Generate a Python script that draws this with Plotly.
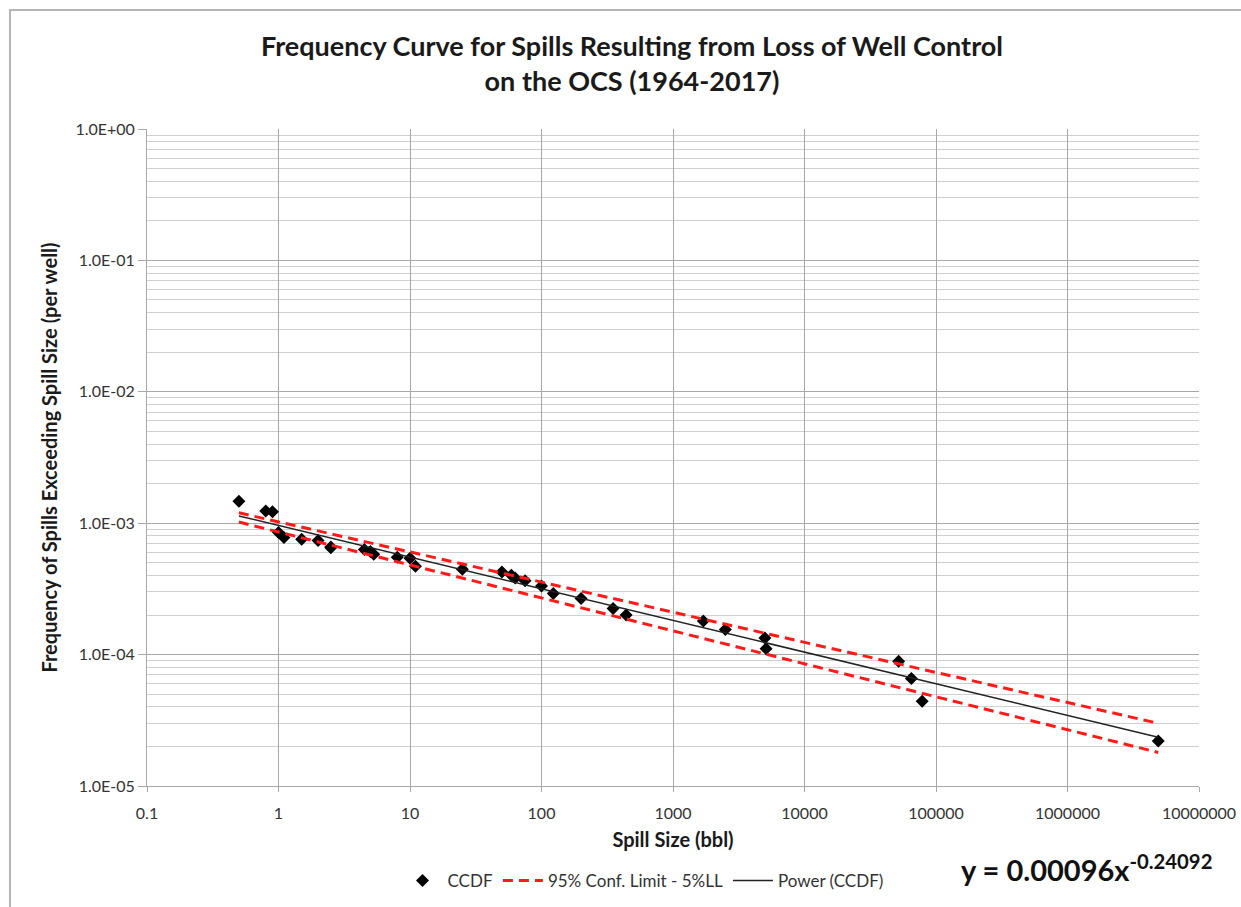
import plotly.graph_objects as go

# ---- data ----
spill_size = [0.5, 0.8, 0.9, 1.0, 1.1, 1.5, 2.0, 2.5, 2.5, 4.5, 5.0, 5.3, 8.0, 10.0,
              11.0, 25.0, 50.0, 59.0, 63.0, 75.0, 100.0, 123.0, 200.0, 350.0, 440.0,
              1700.0, 2500.0, 5000.0, 5100.0, 52000.0, 65000.0, 78500.0, 4900000.0]
ccdf = [1.47e-3, 1.24e-3, 1.22e-3, 8.5e-4, 7.8e-4, 7.55e-4, 7.4e-4, 6.6e-4, 6.5e-4,
        6.3e-4, 6.1e-4, 5.8e-4, 5.5e-4, 5.4e-4, 4.7e-4, 4.47e-4, 4.26e-4, 4.02e-4,
        3.83e-4, 3.64e-4, 3.33e-4, 2.92e-4, 2.67e-4, 2.24e-4, 2.0e-4, 1.80e-4,
        1.55e-4, 1.34e-4, 1.11e-4, 8.9e-5, 6.58e-5, 4.42e-5, 2.2e-5]

line_x = [0.5, 4900000.0]
power_y = [1.135e-3, 2.35e-5]
conf_upper_y = [1.20e-3, 3.0e-5]
conf_lower_y = [1.02e-3, 1.8e-5]

x_tickvals = [0.1, 1, 10, 100, 1000, 10000, 100000, 1000000, 10000000]
x_ticktext = ["0.1", "1", "10", "100", "1000", "10000", "100000", "1000000", "10000000"]
y_tickvals = [1e-5, 1e-4, 1e-3, 1e-2, 1e-1, 1e0]
y_ticktext = ["1.0E-05", "1.0E-04", "1.0E-03", "1.0E-02", "1.0E-01", "1.0E+00"]
y_minor = [m * 10 ** e for e in range(-5, 0) for m in range(2, 10)]

FONT = "Lato, Carlito, Calibri, sans-serif"

fig = go.Figure()

fig.add_trace(go.Scatter(
    x=spill_size, y=ccdf, mode="markers", name="CCDF",
    marker=dict(symbol="diamond", size=10, color="black"),
))
fig.add_trace(go.Scatter(
    x=line_x + [None] + line_x, y=conf_upper_y + [None] + conf_lower_y,
    mode="lines", name="95% Conf. Limit - 5%LL", connectgaps=False,
    line=dict(color="#ff1a1a", width=3, dash="10px,6px"),
))
fig.add_trace(go.Scatter(
    x=line_x, y=power_y, mode="lines", name="Power (CCDF)",
    line=dict(color="#222222", width=1.5),
))

W, H = 1241, 907
L, R, T, B = 147, 1199, 129, 786
pw, ph = R - L, B - T


def px(xp):
    return (xp - L) / pw


def py(yp):
    return (B - yp) / ph


fig.update_layout(
    width=W, height=H,
    margin=dict(l=L, r=W - R, t=T, b=H - B, autoexpand=False),
    paper_bgcolor="white", plot_bgcolor="white",
    font=dict(family=FONT, size=16, color="#333333"),
    title=dict(
        text="<b>Frequency Curve for Spills Resulting from Loss of Well Control<br>on the OCS (1964-2017)</b>",
        x=632 / W, xanchor="center", y=1 - 56 / H, yanchor="middle",
        font=dict(family=FONT, size=27, color="#1a1a1a"),
    ),
    showlegend=True,
    legend=dict(
        orientation="h", x=px(643), xanchor="center", y=py(881), yanchor="middle",
        font=dict(family=FONT, size=17, color="#333333"),
        itemwidth=40, tracegroupgap=0, bgcolor="rgba(0,0,0,0)",
    ),
    xaxis=dict(
        type="log", range=[-1, 7], automargin=False,
        tickmode="array", tickvals=x_tickvals, ticktext=x_ticktext,
        showgrid=True, gridcolor="#a8a8a8", gridwidth=1,
        showline=True, linecolor="#a8a8a8", linewidth=1,
        ticks="outside", ticklen=5, tickcolor="#a8a8a8", ticklabelstandoff=8,
        tickfont=dict(family=FONT, size=16, color="#333333"),
        title=dict(text="<b>Spill Size (bbl)</b>", standoff=11,
                   font=dict(family=FONT, size=20, color="#1a1a1a")),
        zeroline=False,
    ),
    yaxis=dict(
        type="log", range=[-5, 0], automargin=False,
        tickmode="array", tickvals=y_tickvals, ticktext=y_ticktext,
        showgrid=True, gridcolor="#a8a8a8", gridwidth=1,
        showline=True, linecolor="#a8a8a8", linewidth=1,
        ticks="outside", ticklen=8, tickcolor="#a8a8a8",
        tickfont=dict(family=FONT, size=16, color="#333333"),
        minor=dict(tickmode="array", tickvals=y_minor, showgrid=True,
                   gridcolor="#d0d0d0", gridwidth=1, ticks=""),
        title=dict(text="<b>Frequency of Spills Exceeding Spill Size (per well)</b>",
                   standoff=12, font=dict(family=FONT, size=20, color="#1a1a1a")),
        zeroline=False,
    ),
    shapes=[dict(
        type="rect", xref="paper", yref="paper",
        x0=px(10), x1=px(1260), y0=py(925), y1=py(10),
        line=dict(color="#b5b5b5", width=2), fillcolor="rgba(0,0,0,0)", layer="below",
    )],
    annotations=[dict(
        text="<b>y = 0.00096x<sup>-0.24092</sup></b>",
        xref="paper", yref="paper", x=px(959), y=py(868),
        xanchor="left", yanchor="middle", showarrow=False,
        font=dict(family=FONT, size=29, color="#111111"),
    )],
)

fig.write_html("out.html", post_script="document.body.style.margin='0';",
               config={"displayModeBar": False})
